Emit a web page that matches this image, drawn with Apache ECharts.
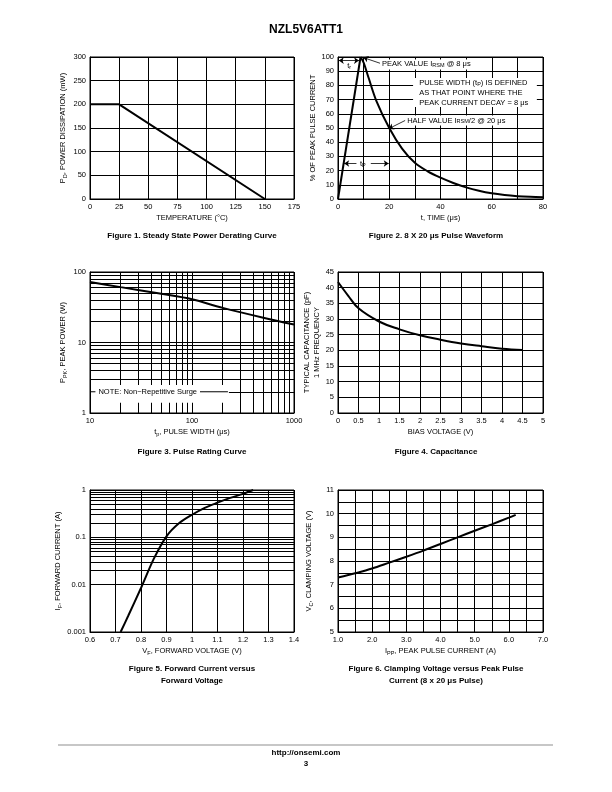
<!DOCTYPE html>
<html><head><meta charset="utf-8">
<script src="https://cdn.jsdelivr.net/npm/echarts@6/dist/echarts.min.js"></script>
<style>html,body{margin:0;padding:0;background:#fff}#c{width:612px;height:792px}</style>
</head><body><div id="c"></div>
<script>
// ---------- DATA ----------
const fig1Temp  = [0, 25, 150];
const fig1Power = [200, 200, 0];

const fig2RiseTime  = [0, 8.8];
const fig2RisePct   = [0, 100];
const fig2DecayTime = [8.8, 10, 12, 15, 20, 25, 30, 35, 40, 45, 50, 55, 60, 65, 70, 75, 80];
const fig2DecayPct  = [100, 96, 85, 69, 50, 35.5, 25.5, 19.5, 15, 11.3, 8.2, 5.8, 4, 2.8, 2, 1.5, 1.2];

const fig3Width = [10, 20, 50, 100, 200, 500, 1000];
const fig3Power = [72, 61, 49, 41, 31, 22.5, 18];
const fig3TickLabels = ['10', '100', '1000'];
const fig3MinorX = [20, 30, 40, 50, 60, 70, 80, 90, 200, 300, 400, 500, 600, 700, 800, 900];
const fig3MinorY = [2, 3, 4, 5, 6, 7, 8, 9, 20, 30, 40, 50, 60, 70, 80, 90];

const fig4Bias = [0, 0.25, 0.5, 1, 1.5, 2, 2.5, 3, 3.5, 4, 4.5];
const fig4Cap  = [41.8, 37.4, 33.4, 29.2, 26.7, 24.8, 23.4, 22.2, 21.3, 20.5, 20.1];

const fig5Volt = [0.72, 0.75, 0.8, 0.85, 0.9, 0.95, 1.0, 1.05, 1.1, 1.15, 1.2, 1.24];
const fig5Curr = [0.001, 0.0022, 0.0085, 0.035, 0.105, 0.2, 0.3, 0.42, 0.54, 0.68, 0.83, 1.0];
const fig5MinorY = [0.002,0.003,0.004,0.005,0.006,0.007,0.008,0.009,
                    0.02,0.03,0.04,0.05,0.06,0.07,0.08,0.09,
                    0.2,0.3,0.4,0.5,0.6,0.7,0.8,0.9];

const fig6Curr  = [1.0, 1.5, 2.0, 2.5, 3.0, 3.5, 4.0, 4.5, 5.0, 5.5, 6.0, 6.2];
const fig6Clamp = [7.3, 7.48, 7.68, 7.93, 8.18, 8.44, 8.72, 9.0, 9.28, 9.55, 9.83, 9.95];

// ---------- HELPERS ----------
const FONT = '"Liberation Sans", Arial, Helvetica, sans-serif';
const zip = (a, b) => a.map((v, i) => [v, b[i]]);
const RICH = {
  n: {fontSize: 7.5, fontFamily: FONT, color: '#000'},
  s: {fontSize: 5.5, fontFamily: FONT, color: '#000', verticalAlign: 'bottom'}
};
function axis(extra, labelExtra) {
  return Object.assign({
    nameLocation: 'middle',
    axisLine: {show: true, onZero: false, lineStyle: {color: '#000', width: 1}},
    axisTick: {show: false},
    splitLine: {show: true, lineStyle: {color: '#000', width: 1}},
    axisLabel: Object.assign({color: '#000', fontSize: 7.5, fontFamily: FONT, margin: 4, showMinLabel: true, showMaxLabel: true}, labelExtra || {}),
    nameTextStyle: {color: '#000', fontSize: 7.5, fontFamily: FONT, rich: RICH, lineHeight: 10}
  }, extra);
}
function line(i, data, extra) {
  return Object.assign({
    type: 'line', xAxisIndex: i, yAxisIndex: i, data: data,
    symbol: 'none', showSymbol: false, silent: true, animation: false,
    lineStyle: {color: '#000', width: 2}
  }, extra || {});
}
function minorLines(key, vals) {
  return {
    silent: true, symbol: 'none', animation: false,
    label: {show: false},
    lineStyle: {color: '#000', width: 1, type: 'solid'},
    data: vals.map(v => ({[key]: v}))
  };
}

const grids = [
  {left: 90,  top: 57,  width: 204, height: 142},
  {left: 338, top: 57,  width: 205, height: 142},
  {left: 90,  top: 272, width: 204, height: 141},
  {left: 338, top: 272, width: 205, height: 141},
  {left: 90,  top: 490, width: 204, height: 142},
  {left: 338, top: 490, width: 205, height: 142}
].map(g => Object.assign({show: true, borderColor: '#000', borderWidth: 1, containLabel: false}, g));

const xAxes = [
  axis({gridIndex: 0, type: 'value', min: 0, max: 175, interval: 25, name: 'TEMPERATURE (°C)', nameGap: 14}),
  axis({gridIndex: 1, type: 'value', min: 0, max: 80, interval: 10, name: 't, TIME (μs)', nameGap: 14},
       {formatter: v => (v % 20 === 0 ? String(v) : '')}),
  axis({gridIndex: 2, type: 'log', logBase: 10, min: 10, max: 1000, name: '{n|t}{s|p}{n|, PULSE WIDTH (μs)}', nameGap: 14},
       {formatter: v => fig3TickLabels[Math.round(Math.log10(v)) - 1] || ''}),
  axis({gridIndex: 3, type: 'value', min: 0, max: 5, interval: 0.5, name: 'BIAS VOLTAGE (V)', nameGap: 14}),
  axis({gridIndex: 4, type: 'value', min: 0.6, max: 1.4, interval: 0.1, name: '{n|V}{s|F}{n|, FORWARD VOLTAGE (V)}', nameGap: 14},
       {formatter: v => String(Math.round(v * 10) / 10)}),
  axis({gridIndex: 5, type: 'value', min: 1, max: 7, interval: 0.5, name: '{n|I}{s|PP}{n|, PEAK PULSE CURRENT (A)}', nameGap: 14},
       {formatter: v => (Math.abs(v - Math.round(v)) < 1e-6 ? v.toFixed(1) : '')})
];
const yAxes = [
  axis({gridIndex: 0, type: 'value', min: 0, max: 300, interval: 50, name: '{n|P}{s|D}{n|, POWER DISSIPATION (mW)}', nameGap: 22}),
  axis({gridIndex: 1, type: 'value', min: 0, max: 100, interval: 10, name: '% OF PEAK PULSE CURRENT', nameGap: 18}),
  axis({gridIndex: 2, type: 'log', logBase: 10, min: 1, max: 100, name: '{n|P}{s|PK}{n|, PEAK POWER (W)}', nameGap: 22},
       {formatter: v => String(Math.round(v))}),
  axis({gridIndex: 3, type: 'value', min: 0, max: 45, interval: 5, name: 'TYPICAL CAPACITANCE (pF)\n1 MHz FREQUENCY', nameGap: 15}),
  axis({gridIndex: 4, type: 'log', logBase: 10, min: 0.001, max: 1, name: '{n|I}{s|F}{n|, FORWARD CURRENT (A)}', nameGap: 22},
       {formatter: v => String(+v.toPrecision(3))}),
  axis({gridIndex: 5, type: 'value', min: 5, max: 11, interval: 0.5, name: '{n|V}{s|C}{n|, CLAMPING VOLTAGE (V)}', nameGap: 24},
       {formatter: v => (Math.abs(v - Math.round(v)) < 1e-6 ? String(Math.round(v)) : '')})
];

// arrows of figure 2 (data coordinates)
const fig2Arrows = [
  [[0.3, 97.5], [8.2, 97.5], 'arrow', 'arrow'],
  [[16.4, 95.6], [9.9, 99.6], 'none', 'arrow'],
  [[26.2, 55.3], [19.8, 49.5], 'none', 'arrow'],
  [[7.2, 25], [2.4, 25], 'none', 'arrow'],
  [[12.8, 25], [19.8, 25], 'none', 'arrow']
];

const series = [
  line(0, zip(fig1Temp, fig1Power)),
  line(1, zip(fig2RiseTime, fig2RisePct)),
  line(1, zip(fig2DecayTime, fig2DecayPct), {
    smooth: 0.35,
    markLine: {
      silent: true, animation: false, symbolSize: 5,
      label: {show: false},
      lineStyle: {color: '#000', width: 0.8, type: 'solid'},
      data: fig2Arrows.map(a => [{coord: a[0], symbol: a[2]}, {coord: a[1], symbol: a[3]}])
    }
  }),
  line(2, zip(fig3Width, fig3Power), {smooth: 0.3, markLine: minorLines('xAxis', fig3MinorX)}),
  line(2, [], {markLine: minorLines('yAxis', fig3MinorY)}),
  line(3, zip(fig4Bias, fig4Cap), {smooth: 0.4}),
  line(4, zip(fig5Volt, fig5Curr), {smooth: 0.3, markLine: minorLines('yAxis', fig5MinorY)}),
  line(5, zip(fig6Curr, fig6Clamp), {smooth: 0.3})
];

const chart = echarts.init(document.getElementById('c'), null, {renderer: 'canvas'});
chart.setOption({
  animation: false,
  backgroundColor: '#fff',
  textStyle: {fontFamily: FONT},
  grid: grids, xAxis: xAxes, yAxis: yAxes, series: series
});

// ---------- ANNOTATIONS ----------
const px = (i, x, y) => chart.convertToPixel({xAxisIndex: i, yAxisIndex: i}, [x, y]);
const SUBRICH = {
  n: {fontSize: 7.5, fontFamily: FONT, fill: '#000'},
  s: {fontSize: 5.5, fontFamily: FONT, fill: '#000', verticalAlign: 'bottom'}
};
const TXT = (x, y, text, opt) => Object.assign({
  type: 'text', x: x, y: y, z: 100, silent: true,
  style: Object.assign({text: text, fill: '#000', fontSize: 7.5, fontFamily: FONT,
    align: 'left', verticalAlign: 'middle', rich: SUBRICH}, opt || {})
});
const g = [];
// header
g.push(TXT(306, 30, 'NZL5V6ATT1', {align: 'center', fontSize: 12, fontWeight: 'bold'}));
// captions
const capL = 192, capR = 436;
const cap = (x, y, t) => g.push(TXT(x, y, t, {align: 'center', fontSize: 8, fontWeight: 'bold'}));
cap(capL, 236, 'Figure 1. Steady State Power Derating Curve');
cap(capR, 236, 'Figure 2. 8 X 20 μs Pulse Waveform');
cap(capL, 452, 'Figure 3. Pulse Rating Curve');
cap(capR, 452, 'Figure 4. Capacitance');
cap(capL, 669, 'Figure 5. Forward Current versus');
cap(capL, 681, 'Forward Voltage');
cap(capR, 669, 'Figure 6. Clamping Voltage versus Peak Pulse');
cap(capR, 681, 'Current (8 x 20 μs Pulse)');
// footer
g.push({type: 'line', z: 100, silent: true, shape: {x1: 58, y1: 745, x2: 553, y2: 745}, style: {stroke: '#b4b4b4', lineWidth: 1.5}});
g.push(TXT(306, 753, 'http://onsemi.com', {align: 'center', fontSize: 8, fontWeight: 'bold'}));
g.push(TXT(306, 764, '3', {align: 'center', fontSize: 8, fontWeight: 'bold'}));

// figure 2 white box + texts
{
  const a = px(1, 29.3, 85.2), b = px(1, 77.6, 64.8);
  g.push({type: 'rect', z: 90, silent: true, shape: {x: a[0], y: a[1], width: b[0] - a[0], height: b[1] - a[1]}, style: {fill: '#fff'}});
  const bg = {backgroundColor: '#fff', padding: [1, 1]};
  let p = px(1, 3.6, 93.5); g.push(TXT(p[0], p[1], '{n|t}{s|r}'));
  p = px(1, 16.8, 94.8); g.push(TXT(p[0], p[1], '{n|PEAK VALUE I}{s|RSM}{n| @ 8 μs}', bg));
  p = px(1, 31.7, 81.7); g.push(TXT(p[0], p[1], '{n|PULSE WIDTH (t}{s|P}{n|) IS DEFINED}'));
  p = px(1, 31.7, 74.6); g.push(TXT(p[0], p[1], 'AS THAT POINT WHERE THE'));
  p = px(1, 31.7, 67.6); g.push(TXT(p[0], p[1], 'PEAK CURRENT DECAY = 8 μs'));
  p = px(1, 26.6, 55.3); g.push(TXT(p[0], p[1], '{n|HALF VALUE I}{s|RSM}{n|/2 @ 20 μs}', bg));
  p = px(1, 8.6, 24.6); g.push(TXT(p[0], p[1], '{n|t}{s|P}'));
}
// figure 3 note
{
  const a = px(2, 10, 2.5), b = px(2, 230, 1.4);
  g.push({type: 'rect', z: 90, silent: true, shape: {x: a[0] + 1, y: a[1], width: b[0] - a[0] - 1, height: b[1] - a[1]}, style: {fill: '#fff'}});
  const l = px(2, 10, 2), r = px(2, 225, 2);
  g.push({type: 'line', z: 95, silent: true, shape: {x1: l[0], y1: l[1], x2: r[0], y2: r[1]}, style: {stroke: '#000', lineWidth: 1}});
  const t = px(2, 11.3, 2);
  g.push(TXT(t[0], t[1], 'NOTE: Non−Repetitive Surge', {backgroundColor: '#fff', padding: [2, 3]}));
}
chart.setOption({graphic: g});
</script>
</body></html>
